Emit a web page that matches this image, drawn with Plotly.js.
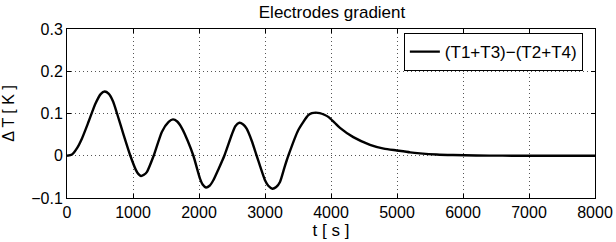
<!DOCTYPE html>
<html>
<head>
<meta charset="utf-8">
<script src="https://cdn.plot.ly/plotly-3.0.1.min.js"></script>
<style>html,body{margin:0;padding:0;background:#fff;}#chart{width:616px;height:242px;}</style>
</head>
<body>
<div id="chart"></div>
<script>
const timeS = [0,76,152,227,328,430,510,571,630,700,758,859,960,1045,1080,1121,1165,1212,1313,1439,1540,1606,1670,1742,1830,1915,2015,2055,2106,2160,2217,2300,2384,2495,2550,2611,2670,2722,2800,2874,3000,3050,3111,3170,3227,3300,3353,3505,3656,3710,3768,3830,3900,3959,4050,4136,4338,4591,4800,4995,5200,5348,5600,5848,6200,6600,7000,8000];
const deltaT = [0,0.003,0.018,0.041,0.081,0.123,0.146,0.152,0.147,0.128,0.100,0.049,0.0,-0.034,-0.043,-0.048,-0.045,-0.038,0.0,0.057,0.080,0.086,0.081,0.065,0.035,0.0,-0.054,-0.068,-0.075,-0.071,-0.058,-0.030,0.0,0.049,0.070,0.078,0.074,0.064,0.035,0.0,-0.058,-0.071,-0.078,-0.074,-0.062,-0.025,0.0,0.061,0.096,0.101,0.102,0.101,0.097,0.092,0.079,0.066,0.044,0.026,0.017,0.0125,0.008,0.0057,0.003,0.0017,0.0007,0.0002,0,0];
const seriesName = "(T1+T3)\u2212(T2+T4)";
const xTicks = [0,1000,2000,3000,4000,5000,6000,7000,8000];

const fam = "Liberation Sans, Arial, sans-serif";
const tickFont = {family: fam, size: 16, color: "#000"};
const axisCommon = {
  showline: true, linecolor: "#000", linewidth: 1, mirror: "ticks",
  ticks: "inside", ticklen: 4, tickcolor: "#000",
  showgrid: true, gridcolor: "#555", griddash: "1px,3px", gridwidth: 1,
  zeroline: false, tickfont: tickFont
};
Plotly.newPlot("chart", [{
  x: timeS, y: deltaT, type: "scatter", mode: "lines", name: seriesName,
  line: {color: "#000", width: 2.4, shape: "spline", smoothing: 0.6}
}], {
  width: 616, height: 242,
  margin: {l: 67, r: 21, t: 29, b: 44},
  paper_bgcolor: "#fff", plot_bgcolor: "#fff",
  font: tickFont,
  title: {text: "Electrodes gradient", font: {family: fam, size: 17, color: "#000"}, x: 0.539, xanchor: "center", y: 0.952, yanchor: "middle"},
  xaxis: Object.assign({}, axisCommon, {range: [0, 8000], tickvals: xTicks, ticktext: xTicks.map(String),
    title: {text: "t [ s ]", font: {family: fam, size: 17, color: "#000"}, standoff: 0}}),
  yaxis: Object.assign({}, axisCommon, {range: [-0.1, 0.3], dtick: 0.1, tick0: 0,
    title: {text: "\u0394 T [ K ]", font: {family: fam, size: 16, color: "#000"}, standoff: 12}}),
  showlegend: true,
  legend: {x: 0.977, xanchor: "right", y: 0.976, yanchor: "top", bordercolor: "#000", borderwidth: 1,
    bgcolor: "#fff", font: {family: fam, size: 17, color: "#000"}, tracegroupgap: 0}
}, {staticPlot: true});
</script>
</body>
</html>
